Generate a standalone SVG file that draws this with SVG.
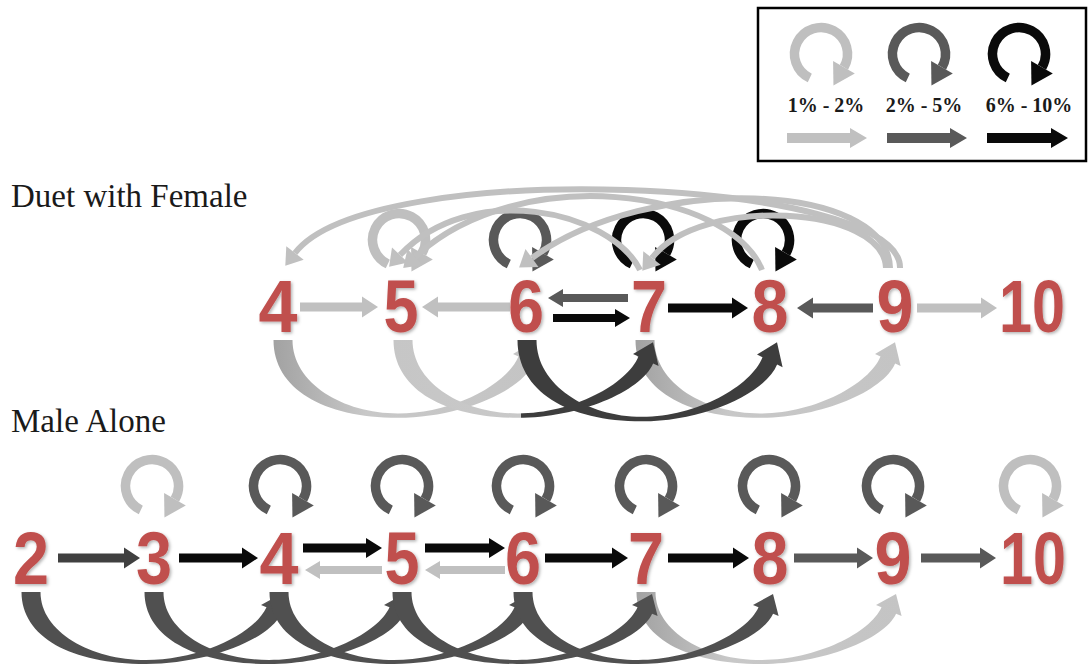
<svg xmlns="http://www.w3.org/2000/svg" width="1092" height="670" viewBox="0 0 1092 670">
<style>
.num{font-family:"Liberation Sans",Arial,sans-serif;font-weight:bold;font-size:75px;fill:#c0504d;text-anchor:middle}
.lbl{font-family:"Liberation Serif","Times New Roman",serif;font-size:33px;fill:#1a1a1a}
.leg{font-family:"Liberation Serif","Times New Roman",serif;font-size:20px;font-weight:bold;fill:#1a1a1a;text-anchor:middle}
.lt{fill:#c0c0c0}.dk{fill:#595959}.dd{fill:#404040}.bk{fill:#0a0a0a}
.lpl{color:#bfbfbf}.lpd{color:#595959}.lpb{color:#0a0a0a}
.ta{fill:none;stroke:#c0c0c0;stroke-width:6}
</style>
<defs>
<filter id="sh" x="-20%" y="-20%" width="140%" height="140%">
<feDropShadow dx="1.5" dy="1.5" stdDeviation="1.5" flood-color="#000" flood-opacity="0.3"/>
</filter>
<g id="loop">
<path d="M -11.2 24 A 26.5 26.5 0 1 1 22.95 13.25" fill="none" stroke="currentColor" stroke-width="9.5"/>
<polygon points="33.8,19.5 12.45,31.4 12.1,7" fill="currentColor"/>
</g>
<path id="arcR" d="M -9.5,0 C -9.5,45 40,72 115,72 C 175,72 238,48 250.1,21.7 L 255.6,24.1 L 250,2 L 230,12.9 L 235.5,15.3 C 224,41 170,68 115,68 C 60,68 9.5,40 9.5,0 Z"/>
<linearGradient id="gLD" x1="0" y1="0" x2="1" y2="0">
<stop offset="0" stop-color="#c6c6c6"/><stop offset="0.48" stop-color="#c9c9c9"/>
<stop offset="0.48" stop-color="#3d3d3d"/><stop offset="1" stop-color="#3d3d3d"/>
</linearGradient>
<linearGradient id="gLt" x1="0" y1="0" x2="1" y2="0">
<stop offset="0" stop-color="#a2a2a2"/><stop offset="0.35" stop-color="#c8c8c8"/><stop offset="1" stop-color="#c4c4c4"/>
</linearGradient>
</defs>

<rect width="1092" height="670" fill="#ffffff"/>

<g id="legend">
<rect x="758" y="8" width="328" height="153" fill="#fff" stroke="#000" stroke-width="2.5"/>
<use href="#loop" class="lpl" x="821" y="54"/>
<use href="#loop" class="lpd" x="919" y="54"/>
<use href="#loop" class="lpb" x="1019" y="54"/>
<text class="leg" x="826" y="112">1% - 2%</text>
<text class="leg" x="924" y="112">2% - 5%</text>
<text class="leg" x="1029" y="112">6% - 10%</text>
<polygon class="lt" points="787,133 850,133 850,128 867,138 850,148 850,143 787,143"/>
<polygon class="dk" points="887,133 950,133 950,128 967,138 950,148 950,143 887,143"/>
<polygon class="bk" points="987,133 1051,133 1051,128 1068,138 1051,148 1051,143 987,143"/>
</g>

<g id="labels">
<text class="lbl" x="11" y="207">Duet with Female</text>
<text class="lbl" x="11" y="432">Male Alone</text>
</g>

<g id="connectors">
<!-- duet self loops -->
<use href="#loop" class="lpl" x="399" y="240"/>
<use href="#loop" class="lpd" x="520" y="240"/>
<use href="#loop" class="lpb" x="643" y="240"/>
<use href="#loop" class="lpb" x="763" y="240"/>
<!-- duet upper arcs -->
<path class="ta" d="M900,268 C902,178 370,155 295,253"/>
<polygon class="lt" points="303.7,259.7 285.3,265.7 286.3,246.3"/>
<path class="ta" d="M890,268 C888,182 650,172 532,258"/>
<polygon class="lt" points="538.5,266.9 519.1,267.4 525.5,249.1"/>
<path class="ta" d="M886,268 C884,205 700,195 652,258"/>
<polygon class="lt" points="660.7,264.7 642.3,270.7 643.3,251.3"/>
<path class="ta" d="M762,270 C730,190 520,160 415,257"/>
<polygon class="lt" points="422.5,265.1 403.2,267.9 407.5,248.9"/>
<path class="ta" d="M640,270 C610,210 470,180 400,255"/>
<polygon class="lt" points="408,262.5 389.1,266.7 392,247.5"/>
<!-- duet lower arcs -->
<use href="#arcR" fill="url(#gLt)" transform="translate(283,340) scale(1,1.08)"/>
<use href="#arcR" fill="url(#gLt)" transform="translate(645,340) scale(1,1.08)"/>
<use href="#arcR" fill="url(#gLD)" transform="translate(403,340) scale(1,1.08)"/>
<use href="#arcR" fill="#3d3d3d" transform="translate(527,340) scale(1,1.13)"/>
<!-- duet horizontal arrows -->
<polygon class="lt" points="300,302.5 362,302.5 362,296.5 378,307 362,317.5 362,311.5 300,311.5"/>
<polygon class="lt" points="510,302.5 438,302.5 438,296.5 422,307 438,317.5 438,311.5 510,311.5"/>
<polygon class="dk" points="628,294 563,294 563,289 548,298 563,307 563,302 628,302"/>
<polygon class="bk" points="553,314 615,314 615,309 630,318 615,327 615,322 553,322"/>
<polygon class="bk" points="668,303.5 732,303.5 732,297.5 748,308 732,318.5 732,312.5 668,312.5"/>
<polygon class="dk" points="873,303.5 813,303.5 813,297.5 797,308 813,318.5 813,312.5 873,312.5"/>
<polygon class="lt" points="917,303.5 981,303.5 981,297.5 997,308 981,318.5 981,312.5 917,312.5"/>

<!-- male self loops -->
<use href="#loop" class="lpl" x="152" y="486"/>
<use href="#loop" class="lpd" x="280" y="486"/>
<use href="#loop" class="lpd" x="402" y="486"/>
<use href="#loop" class="lpd" x="523" y="486"/>
<use href="#loop" class="lpd" x="646" y="486"/>
<use href="#loop" class="lpd" x="769" y="486"/>
<use href="#loop" class="lpd" x="893" y="486"/>
<use href="#loop" class="lpl" x="1030" y="486"/>
<!-- male lower arcs -->
<use href="#arcR" fill="url(#gLt)" transform="translate(646,592)"/>
<use href="#arcR" fill="#505050" transform="translate(31,592)"/>
<use href="#arcR" fill="#505050" transform="translate(154,592)"/>
<use href="#arcR" fill="#505050" transform="translate(279,592)"/>
<use href="#arcR" fill="#505050" transform="translate(402,592)"/>
<use href="#arcR" fill="#505050" transform="translate(523,592)"/>
<!-- male horizontal arrows -->
<polygon class="dd" points="58,553.5 124,553.5 124,547.5 140,558 124,568.5 124,562.5 58,562.5"/>
<polygon class="bk" points="179,553.5 242,553.5 242,547.5 258,558 242,568.5 242,562.5 179,562.5"/>
<polygon class="bk" points="303,543.5 366,543.5 366,538 382,548 366,558 366,552.5 303,552.5"/>
<polygon class="lt" points="382,566 320,566 320,561 305,570 320,579 320,574 382,574"/>
<polygon class="bk" points="425,543.5 489,543.5 489,538 505,548 489,558 489,552.5 425,552.5"/>
<polygon class="lt" points="505,566 440,566 440,561 425,570 440,579 440,574 505,574"/>
<polygon class="bk" points="545,553.5 612,553.5 612,547.5 628,558 612,568.5 612,562.5 545,562.5"/>
<polygon class="bk" points="668,553.5 733,553.5 733,547.5 749,558 733,568.5 733,562.5 668,562.5"/>
<polygon class="dk" points="794,553.5 857,553.5 857,547.5 873,558 857,568.5 857,562.5 794,562.5"/>
<polygon class="dk" points="921,553.5 980,553.5 980,547.5 996,558 980,568.5 980,562.5 921,562.5"/>
</g>

<g id="nodes" filter="url(#sh)">
<g id="duet-4"><text class="num" x="278" y="332" textLength="39" lengthAdjust="spacingAndGlyphs">4</text></g>
<g id="duet-5"><text class="num" x="401" y="332" textLength="35" lengthAdjust="spacingAndGlyphs">5</text></g>
<g id="duet-6"><text class="num" x="526" y="332" textLength="36" lengthAdjust="spacingAndGlyphs">6</text></g>
<g id="duet-7"><text class="num" x="649" y="332" textLength="36" lengthAdjust="spacingAndGlyphs">7</text></g>
<g id="duet-8"><text class="num" x="770" y="332" textLength="37" lengthAdjust="spacingAndGlyphs">8</text></g>
<g id="duet-9"><text class="num" x="895" y="332" textLength="37" lengthAdjust="spacingAndGlyphs">9</text></g>
<g id="duet-10"><text class="num" x="1032" y="332" textLength="66" lengthAdjust="spacingAndGlyphs">10</text></g>
<g id="male-2"><text class="num" x="31" y="584" textLength="36" lengthAdjust="spacingAndGlyphs">2</text></g>
<g id="male-3"><text class="num" x="154" y="584" textLength="36" lengthAdjust="spacingAndGlyphs">3</text></g>
<g id="male-4"><text class="num" x="279" y="584" textLength="39" lengthAdjust="spacingAndGlyphs">4</text></g>
<g id="male-5"><text class="num" x="402" y="584" textLength="35" lengthAdjust="spacingAndGlyphs">5</text></g>
<g id="male-6"><text class="num" x="523" y="584" textLength="36" lengthAdjust="spacingAndGlyphs">6</text></g>
<g id="male-7"><text class="num" x="646" y="584" textLength="36" lengthAdjust="spacingAndGlyphs">7</text></g>
<g id="male-8"><text class="num" x="770" y="584" textLength="37" lengthAdjust="spacingAndGlyphs">8</text></g>
<g id="male-9"><text class="num" x="893" y="584" textLength="37" lengthAdjust="spacingAndGlyphs">9</text></g>
<g id="male-10"><text class="num" x="1033" y="584" textLength="66" lengthAdjust="spacingAndGlyphs">10</text></g>
</g>
</svg>
